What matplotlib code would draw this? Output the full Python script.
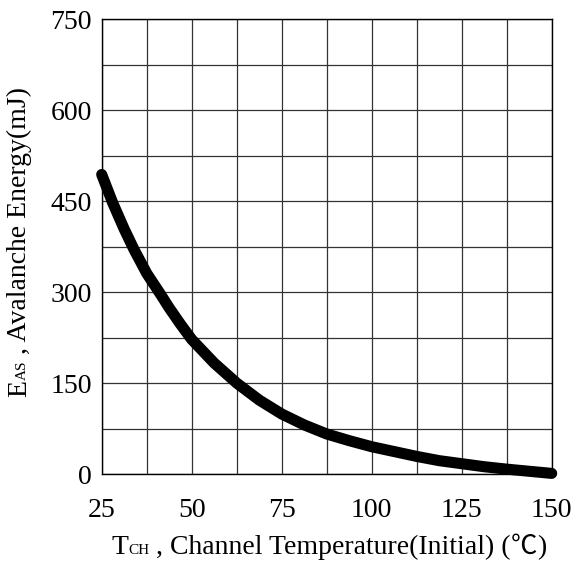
import matplotlib
matplotlib.use('Agg')
import matplotlib.pyplot as plt

# channel temperature (C) and avalanche energy (mJ)
temp = [25, 28, 31.25, 34, 37.5, 41.5, 43.75, 46.9, 50, 56.25, 62.5, 68.75, 75,
        81.25, 87.5, 93.75, 100, 106.25, 112.5, 118.75, 125, 131.25, 137.5, 143.75, 150]
energy = [494, 448, 404, 370, 331, 295, 274, 247, 222, 183, 150, 122, 99,
          81, 66, 55, 45, 37, 29, 22, 17, 12, 8, 4.5, 1]

x_ticks = [25, 50, 75, 100, 125, 150]
x_minor = [37.5, 62.5, 87.5, 112.5, 137.5]
y_ticks = [0, 150, 300, 450, 600, 750]
y_minor = [75, 225, 375, 525, 675]

# (text, size, weight) pieces; the small caps are the subscripts
x_label = [("T", 20, 'normal'), ("CH", 11, 'normal'),
           (" , Channel Temperature(Initial) (", 20, 'normal'),
           ("\u2103", 19, 'light'), (")", 20, 'normal')]
y_label = [("E", 20, 'normal'), ("AS", 11, 'normal'),
           (" , Avalanche Energy(mJ)", 20, 'normal')]

FONT = ['Liberation Serif', 'Noto Sans CJK SC', 'DejaVu Sans']
plt.rcParams['font.family'] = FONT

W, H = 577, 567
fig = plt.figure(figsize=(W / 100, H / 100), dpi=100)
ax = fig.add_axes([101.7 / W, 1 - 474 / H, 450 / W, 454.7 / H])

ax.plot(temp, energy, color='black', linewidth=8, solid_capstyle='round',
        solid_joinstyle='round', clip_on=False, zorder=5)

ax.set_xlim(25, 150)
ax.set_ylim(0, 750)
ax.set_xticks(x_ticks)
ax.set_xticks(x_minor, minor=True)
ax.set_yticks(y_ticks)
ax.set_yticks(y_minor, minor=True)
ax.grid(which='both', color='#333333', linewidth=0.9)
ax.tick_params(which='both', length=0, labelsize=20)
ax.tick_params(axis='x', pad=17)
ax.tick_params(axis='y', pad=7)
for s in ax.spines.values():
    s.set_linewidth(1.0)
    s.set_color('black')

renderer = fig.canvas.get_renderer()


def piece_widths(pieces):
    ws = []
    for txt, size, wt in pieces:
        t = fig.text(0, 0, txt, fontsize=size, fontweight=wt)
        ws.append(t.get_window_extent(renderer).width)
        t.remove()
    return ws


def draw_label(pieces, centre, base, vertical=False):
    ws = piece_widths(pieces)
    pos = centre - sum(ws) / 2
    for (txt, size, wt), w in zip(pieces, ws):
        if vertical:
            fig.text(base / W, pos / H, txt, fontsize=size, fontweight=wt,
                     rotation=90, rotation_mode='anchor',
                     ha='left', va='baseline')
        else:
            fig.text(pos / W, base / H, txt, fontsize=size, fontweight=wt,
                     ha='left', va='baseline')
        pos += w


# x label centred under the axes, baseline ~13 px above the bottom
draw_label(x_label, 329, 13)
# y label rotated, baseline at x=26 px
draw_label(y_label, H - 242, 26, vertical=True)

fig.savefig('out.png', dpi=100)
